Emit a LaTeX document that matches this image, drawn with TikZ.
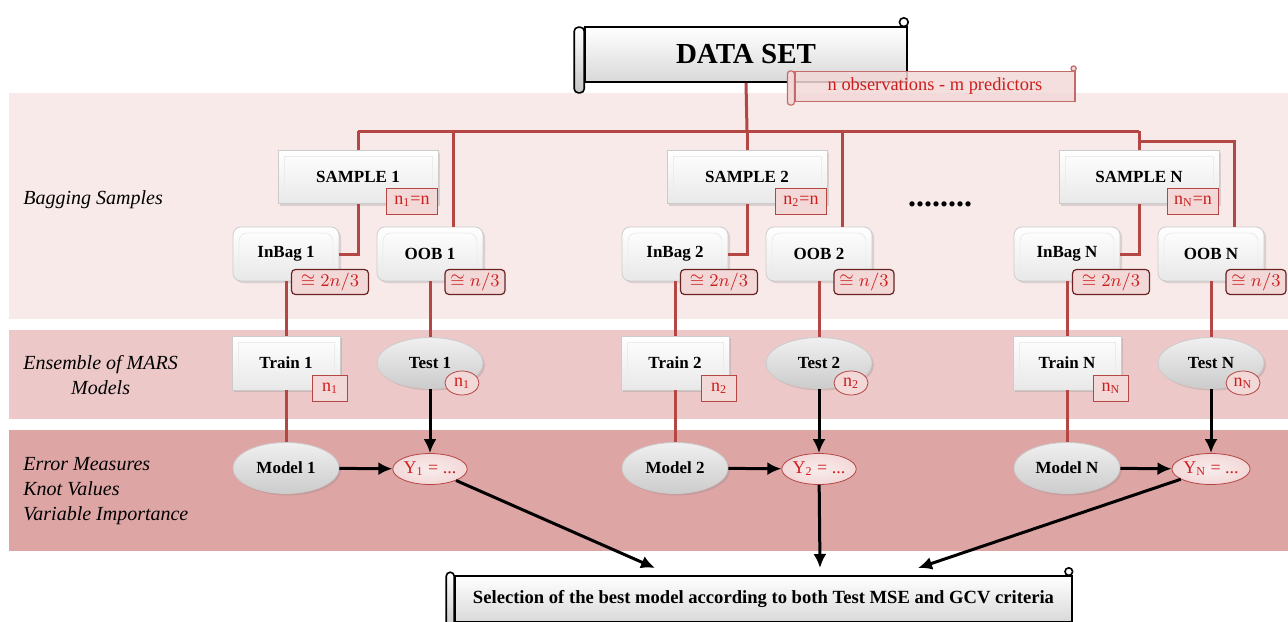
\documentclass[tikz,border=0pt]{standalone}
\usepackage{fontspec}
\setmainfont{Liberation Serif}
\usetikzlibrary{arrows.meta,shapes.geometric,shadows,calc}

\definecolor{bandA}{RGB}{249,234,234}
\definecolor{bandB}{RGB}{236,200,200}
\definecolor{bandC}{RGB}{222,165,165}
\definecolor{treered}{RGB}{180,70,68}
\definecolor{badgefill}{RGB}{243,216,216}
\definecolor{badgetext}{RGB}{205,30,30}
\definecolor{badgedark}{RGB}{105,35,35}

\tikzset{
	bevel/.style={rectangle, draw=gray!40, top color=white, bottom color=gray!18, minimum width=80pt, minimum height=26.5pt, font=\fontsize{8.5}{10}\selectfont\bfseries, drop shadow={opacity=0.25, shadow xshift=1pt, shadow yshift=-1pt},
		path picture={\draw[white!85!gray] ([shift={(3pt,-3pt)}]path picture bounding box.north west) rectangle ([shift={(-3pt,3pt)}]path picture bounding box.south east);}},
	bevelround/.style={bevel, rounded corners=4pt, minimum width=53pt, minimum height=27pt},
	ovalbox/.style={ellipse, draw=gray!40, top color=gray!12, middle color=white, bottom color=gray!40, minimum width=53pt, minimum height=25.5pt, inner sep=0pt, font=\fontsize{8.5}{10}\selectfont\bfseries, drop shadow={opacity=0.25, shadow xshift=1pt, shadow yshift=-1pt}},
	badge/.style={rectangle, draw=treered, fill=badgefill, text=badgetext, font=\fontsize{9}{10}\selectfont, inner sep=1pt, minimum height=13pt},
	approx/.style={badge, draw=badgedark, rounded corners=2pt, semithick, minimum height=12.5pt},
	ovalbadge/.style={ellipse, draw=treered, fill=badgefill, text=badgetext, font=\fontsize{9}{10}\selectfont, inner sep=0pt, minimum width=17pt, minimum height=12pt},
	youtput/.style={ellipse, draw=treered, inner color=badgefill!50, outer color=badgefill, text=badgetext, font=\fontsize{9}{10}\selectfont, inner sep=0pt, minimum width=37pt, minimum height=15.5pt},
	treeline/.style={draw=treered, line width=1.5pt},
	flow/.style={-{Latex[length=7pt,width=6.5pt]}, line width=1.5pt},
	scrollbox/.style={rectangle, draw, thick, top color=white, bottom color=gray!30},
	pinkscroll/.style={rectangle, draw=treered!80, fill=badgefill, fill opacity=0.85, text opacity=1, text=badgetext, semithick},
	rowtitle/.style={font=\fontsize{10}{12.5}\selectfont\itshape, anchor=west, inner sep=0pt}
}

\begin{document}
\begin{tikzpicture}[x=0.5pt, y=-0.5pt]
	\useasboundingbox (0,0) rectangle (1288,621);
	% bands
	\fill[bandA] (9,93) rectangle (1288,319);
	\fill[bandB] (9,330) rectangle (1288,419);
	\fill[bandC] (9,430) rectangle (1288,551);
	\node[rowtitle] (lbag) at (23,200) {Bagging Samples};
	\node[rowtitle, align=center] (lens) at (23,375) {Ensemble of MARS\\Models};
	\node[rowtitle, align=left] (lerr) at (23,491) {Error Measures\\Knot Values\\Variable Importance};
	% data set scroll
	\node[scrollbox, minimum width=161pt, minimum height=27.5pt, font=\fontsize{14.5}{16}\selectfont\bfseries] (ds) at (746,54.5) {DATA SET};
	\draw[thick, top color=white, bottom color=gray!45, rounded corners=2pt] ([xshift=-5pt,yshift=-0.5pt]ds.north west) rectangle ([yshift=-5pt]ds.south west);
	\draw[thick, fill=white] ([xshift=-2pt,yshift=2pt]ds.north east) circle (2.2pt);
	\coordinate (hub) at (747,131);
	\draw[treeline] (ds.south) -- (hub);
	\node[pinkscroll, minimum width=140pt, minimum height=14.5pt, font=\fontsize{9.2}{10}\selectfont] (obs) at (935,86.5) {n observations - m predictors};
	\draw[treered!80, semithick, fill=badgefill, rounded corners=1.5pt] ([xshift=-3.5pt]obs.north west) rectangle ([yshift=-1.5pt]obs.south west);
	\draw[treered!80, semithick, fill=badgefill] ([xshift=-1pt,yshift=1.2pt]obs.north east) circle (1.3pt);
	% columns
	\foreach \i/\x/\t/\o in {1/358/655/0, 2/747/820/0, N/1139/918/10} {
		\node[bevel] (s\i) at (\x,177) {SAMPLE \i};
		\node[badge, minimum width=25.5pt] (sb\i) at (\x+54,201) {n\textsubscript{\i}=n};
		\node[bevelround] (in\i) at (\x-72,254) {InBag \i};
		\node[approx, minimum width=38.5pt] (ib\i) at (\x-28,282) {$\cong 2n/3$};
		\node[bevelround] (oob\i) at (\x+72,254) {OOB \i};
		\node[approx, minimum width=30pt] (ob\i) at (\x+117,282) {$\cong n/3$};
		\node[bevel, minimum width=54pt, minimum height=27pt] (tr\i) at (\x-72,363) {Train \i};
		\node[badge, minimum width=17.5pt] (tb\i) at (\x-28,388) {n\textsubscript{\i}};
		\node[ovalbox] (te\i) at (\x+72,363) {Test \i};
		\node[ovalbadge] (eb\i) at (\x+104,383) {n\textsubscript{\i}};
		\node[ovalbox] (mo\i) at (\x-72,468) {Model \i};
		\node[youtput] (y\i) at (\x+72,469) {Y\textsubscript{\i} = ...};
		\coordinate (tip\i) at (\t,568);
		\draw[treeline] (s\i.north |- hub) -- (s\i.north);
		\draw[treeline] ($(s\i.north |- hub)+(0,\o)$) -| ([xshift=11.5pt]oob\i.north);
		\draw[treeline] (s\i.south) |- (in\i.east);
		\draw[treeline] (in\i.south) -- (tr\i.north);
		\draw[treeline] (tr\i.south) -- (mo\i.north);
		\draw[treeline] (oob\i.south) -- (te\i.north);
		\draw[flow] (mo\i) -- (y\i);
		\draw[flow] (te\i) -- (y\i);
		\draw[flow] (y\i) -- (tip\i);
	}
	\draw[treeline] (hub -| s1.north) -- (hub -| sN.north);
	\node[anchor=base, font=\fontsize{16}{16}\selectfont\bfseries] (dots) at (940,206) {........};
	% selection scroll
	\node[scrollbox, minimum width=308.5pt, minimum height=23pt, font=\fontsize{9.3}{10}\selectfont\bfseries] (sel) at (763.5,599) {Selection of the best model according to both Test MSE and GCV criteria};
	\draw[thick, top color=white, bottom color=gray!45, rounded corners=2pt] ([xshift=-4pt,yshift=1.5pt]sel.north west) rectangle ([yshift=-5pt]sel.south west);
	\draw[thick, fill=white] ([xshift=-2pt,yshift=1.8pt]sel.north east) circle (1.9pt);
\end{tikzpicture}
\end{document}
